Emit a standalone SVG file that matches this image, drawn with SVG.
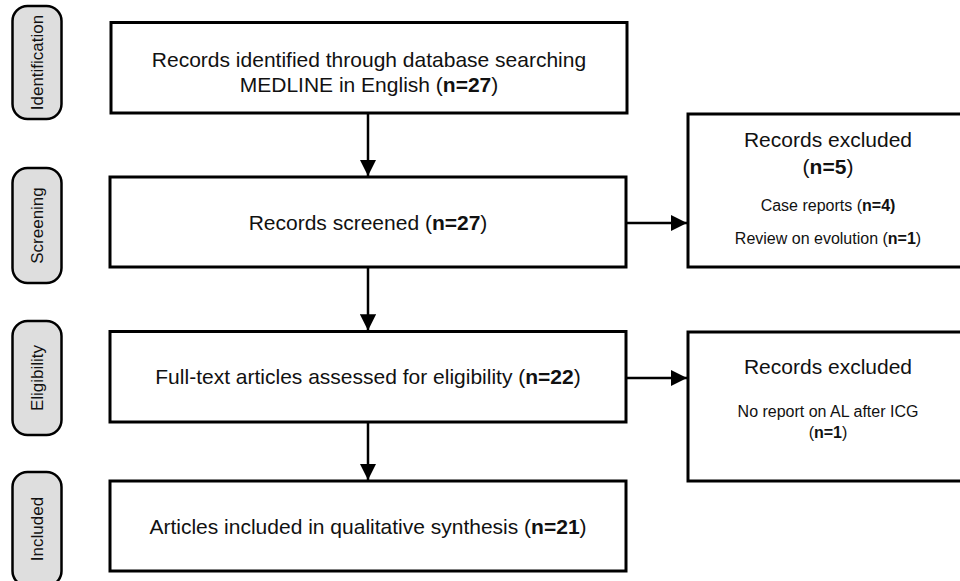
<svg xmlns="http://www.w3.org/2000/svg" width="960" height="581" viewBox="0 0 960 581">
<style>
.box{fill:#fff;stroke:#000;stroke-width:3}
.pill{fill:#dedede;stroke:#000;stroke-width:2.5}
.t{font-family:"Liberation Sans",Arial,sans-serif;fill:#111;text-anchor:middle}
.m{font-size:21px}
.s{font-size:16px}
.p{font-size:17px}
.b{font-weight:bold}
.ln{stroke:#000;stroke-width:2.5;fill:none}
</style>
<defs>
<marker id="ah" viewBox="0 0 10 10" refX="10" refY="5" markerWidth="6.5" markerHeight="6.5" markerUnits="strokeWidth" orient="auto">
<path d="M0,0 L10,5 L0,10 Z" fill="#000"/>
</marker>
</defs>
<rect width="960" height="581" fill="#fff"/>
<g id="stage-identification">
<rect class="pill" x="12.5" y="6" width="49" height="113" rx="15"/>
<text class="t p" transform="translate(43,62.5) rotate(-90)">Identification</text>
</g>
<g id="stage-screening">
<rect class="pill" x="12.5" y="168" width="49" height="115" rx="15"/>
<text class="t p" transform="translate(43,225.5) rotate(-90)">Screening</text>
</g>
<g id="stage-eligibility">
<rect class="pill" x="12.5" y="321" width="49" height="114" rx="15"/>
<text class="t p" transform="translate(43,378) rotate(-90)">Eligibility</text>
</g>
<g id="stage-included">
<rect class="pill" x="12.5" y="472" width="49" height="114" rx="15"/>
<text class="t p" transform="translate(43,529) rotate(-90)">Included</text>
</g>
<g id="identified">
<rect class="box" x="111" y="22.5" width="516" height="90.5"/>
<text class="t m" x="369" y="67">Records identified through database searching</text>
<text class="t m" x="369" y="92">MEDLINE in English (<tspan class="b">n=27</tspan>)</text>
</g>
<g id="screened">
<rect class="box" x="110" y="177" width="516" height="90"/>
<text class="t m" x="368" y="229.5">Records screened (<tspan class="b">n=27</tspan>)</text>
</g>
<g id="eligibility">
<rect class="box" x="110" y="331.5" width="516" height="90.5"/>
<text class="t m" x="368" y="384">Full-text articles assessed for eligibility (<tspan class="b">n=22</tspan>)</text>
</g>
<g id="included">
<rect class="box" x="110" y="481" width="516" height="90"/>
<text class="t m" x="368" y="533.5">Articles included in qualitative synthesis (<tspan class="b">n=21</tspan>)</text>
</g>
<g id="excluded1">
<rect class="box" x="688" y="114" width="290" height="153"/>
<text class="t m" x="828" y="147">Records excluded</text>
<text class="t m" x="828" y="174">(<tspan class="b">n=5</tspan>)</text>
<text class="t s" x="828" y="211">Case reports (<tspan class="b">n=4)</tspan></text>
<text class="t s" x="828" y="244">Review on evolution (<tspan class="b">n=1</tspan>)</text>
</g>
<g id="excluded2">
<rect class="box" x="688" y="332" width="290" height="149"/>
<text class="t m" x="828" y="374">Records excluded</text>
<text class="t s" x="828" y="417">No report on AL after ICG</text>
<text class="t s" x="828" y="438">(<tspan class="b">n=1</tspan>)</text>
</g>
<g id="connectors">
<line class="ln" x1="368" y1="113" x2="368" y2="176" marker-end="url(#ah)"/>
<line class="ln" x1="368" y1="267" x2="368" y2="330.5" marker-end="url(#ah)"/>
<line class="ln" x1="368" y1="422" x2="368" y2="480" marker-end="url(#ah)"/>
<line class="ln" x1="626" y1="223" x2="687" y2="223" marker-end="url(#ah)"/>
<line class="ln" x1="626" y1="378" x2="687" y2="378" marker-end="url(#ah)"/>
</g>
</svg>
